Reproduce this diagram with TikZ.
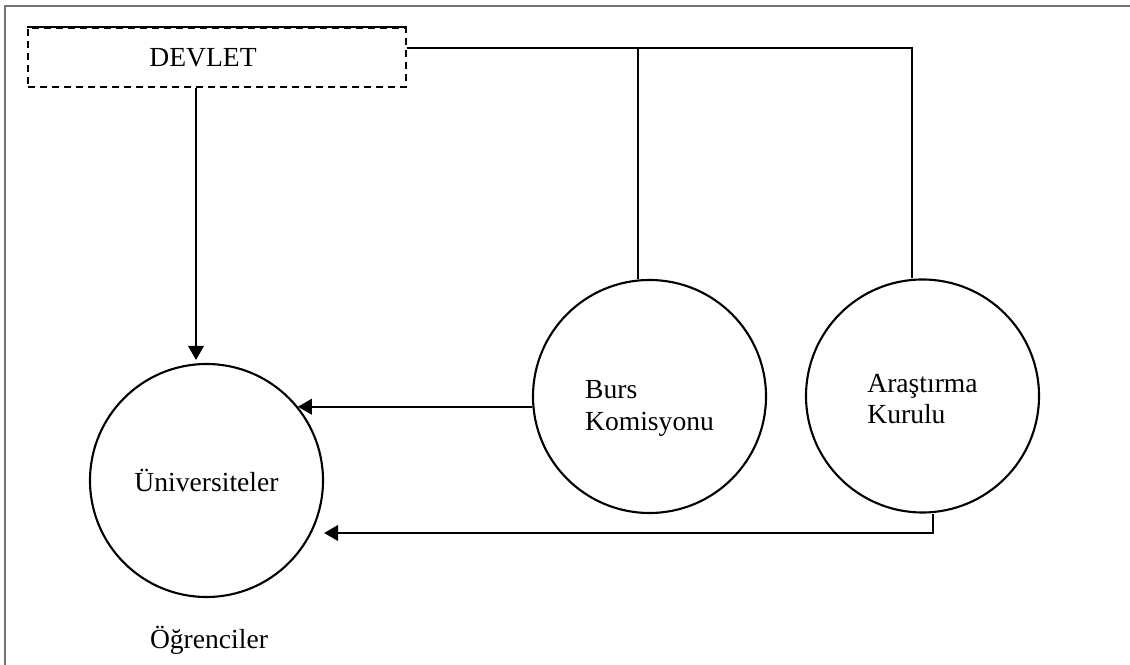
\documentclass[tikz,border=0pt]{standalone}
\usepackage{fontspec}
\setmainfont{Liberation Serif}
\usetikzlibrary{arrows.meta, positioning}

\begin{document}
\begin{tikzpicture}[
    font=\fontsize{7.85}{9}\selectfont,
    line width=0.6pt,
    unit/.style={circle, draw, minimum size=2.33cm, inner sep=0pt, align=left},
    arr/.style={-{Triangle[length=0.14cm, width=0.155cm]}}
  ]
    \useasboundingbox (0, 0) rectangle (11.3, 6.65);

    % page frame
    \draw[black!55, line width=0.55pt] (0.05, 0) |- (11.3, 6.59);

    \node[draw, dash pattern=on 0.07cm off 0.05cm, minimum width=3.78cm, minimum height=0.59cm, inner sep=0pt] (devlet) at (2.17, 6.075) {DEVLET\hspace*{0.28cm}};
    \draw (devlet.north west) -- (devlet.north east);

    \node[unit] (uni) at (2.065, 1.845) {Üniversiteler};
    \node[unit, text height=0.74cm] (burs) at (6.495, 2.685) {Burs\\Komisyonu};
    \node[unit, text height=0.56cm] (arge) at (9.225, 2.69) {Araştırma\\Kurulu};
    \node[anchor=base] (ogr) at (2.09, 0.16) {Öğrenciler};

    % lines from DEVLET
    \coordinate (bus) at ([yshift=0.095cm]devlet.east);
    \draw (bus) -| ([xshift=-0.105cm]arge.north);
    \draw ([xshift=-0.115cm]burs.north) -- ([xshift=-0.115cm]burs.north |- bus);
    \draw[arr, shorten >=0.3mm] ([xshift=-0.21cm]devlet.south) -- ([xshift=-0.21cm]devlet.south |- uni.north);

    % to Üniversiteler
    \draw[arr] (burs.185) -- (burs.185 -| uni.39);
    \draw[arr] ([xshift=0.105cm]arge.south) |- ([yshift=-0.525cm]uni.east);
\end{tikzpicture}
\end{document}
